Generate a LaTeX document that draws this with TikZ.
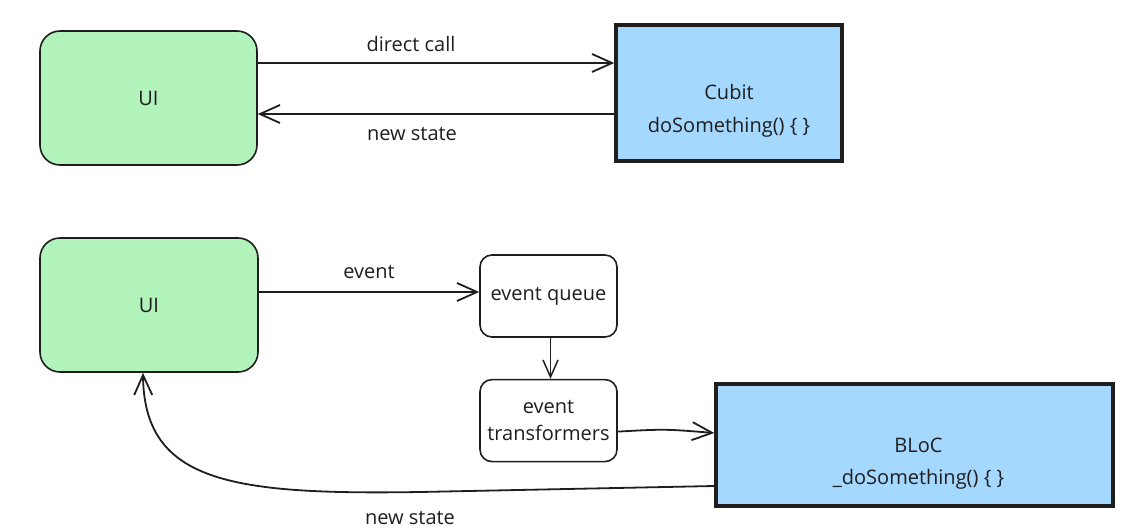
\documentclass[tikz,border=0pt]{standalone}
\usepackage{fontspec}
\setmainfont{Open Sans}
\usepackage{tikz}
\usetikzlibrary{arrows.meta, positioning, calc}
\definecolor{uigreen}{HTML}{B2F2BB}
\definecolor{stateblue}{HTML}{A5D8FF}
\definecolor{ink}{HTML}{1E1E1E}
\tikzset{
    uibox/.style={
        rectangle, draw=ink, fill=uigreen, line width=1.6pt,
        rounded corners=20pt, minimum width=218pt, minimum height=134pt
    },
    statebox/.style={
        rectangle, draw=ink, fill=stateblue, line width=3.5pt
    },
    statetext/.style={text=ink, align=center, inner sep=0pt, yshift=-18pt},
    stepbox/.style={
        rectangle, draw=ink, fill=white, line width=1.6pt,
        rounded corners=12pt, minimum width=137pt, minimum height=82pt,
        align=center, inner sep=2pt
    },
    arrow/.style={draw=ink, line width=1.8pt, -{Straight Barb[length=20pt,width=18pt,line width=1.8pt]}},
    smallarrow/.style={draw=ink, line width=1.5pt, -{Straight Barb[length=17pt,width=15pt,line width=1.5pt]}},
    lbl/.style={text=ink, inner sep=0pt}
}

\begin{document}
\begin{tikzpicture}[x=1pt, y=-1pt, font=\fontsize{20}{24}\selectfont, text=ink]
        \useasboundingbox (0,0) rectangle (1140,532);
        % Cubit
        \node (ui1) [uibox, minimum width=217pt] at (148.5,98) {UI};
        \node (cubit) [statebox, minimum width=226pt, minimum height=136pt,
            label={[statetext]center:Cubit\\[9pt]doSomething() \{ \}}] at (729,93) {};
        \draw [arrow] ([yshift=35pt]ui1.east) -- node[lbl, above=10pt, xshift=-25pt] {direct call} ([yshift=35pt]ui1.east -| cubit.west);
        \draw [arrow] ([yshift=-21pt]cubit.west) -- node[lbl, below=12pt, xshift=-24pt] {new state} ([yshift=-21pt]cubit.west -| ui1.east);

        % BLoC
        \node (ui2) [uibox] at (149,305) {UI};
        \node (queue) [stepbox] at (548.5,296) {event queue};
        \node (trans) [stepbox, below=41pt of queue] {event\\[3pt]transformers};
        \node (bloc) [statebox, minimum width=397pt, minimum height=122pt,
            label={[statetext, xshift=4pt, yshift=-1pt]center:BLoC\\[8pt]\_doSomething() \{ \}}] at (914.5,445) {};
        \draw [arrow] ([yshift=13pt]ui2.east) -- node[lbl, above=12pt] {event} ([yshift=13pt]ui2.east -| queue.west);
        \draw [smallarrow] ([xshift=2pt]queue.south) -- ([xshift=2pt]trans.north);
        \draw [arrow] ([yshift=-11pt]trans.east) .. controls (665,429) .. ([yshift=12pt]bloc.west);
        \draw [arrow] ([yshift=-41pt]bloc.west) -- node[lbl, pos=1, below=18pt, xshift=-10pt] {new state} (420,492)
            .. controls (230,495) and (144,482) .. ([xshift=-6pt]ui2.south);
    \end{tikzpicture}
\end{document}
